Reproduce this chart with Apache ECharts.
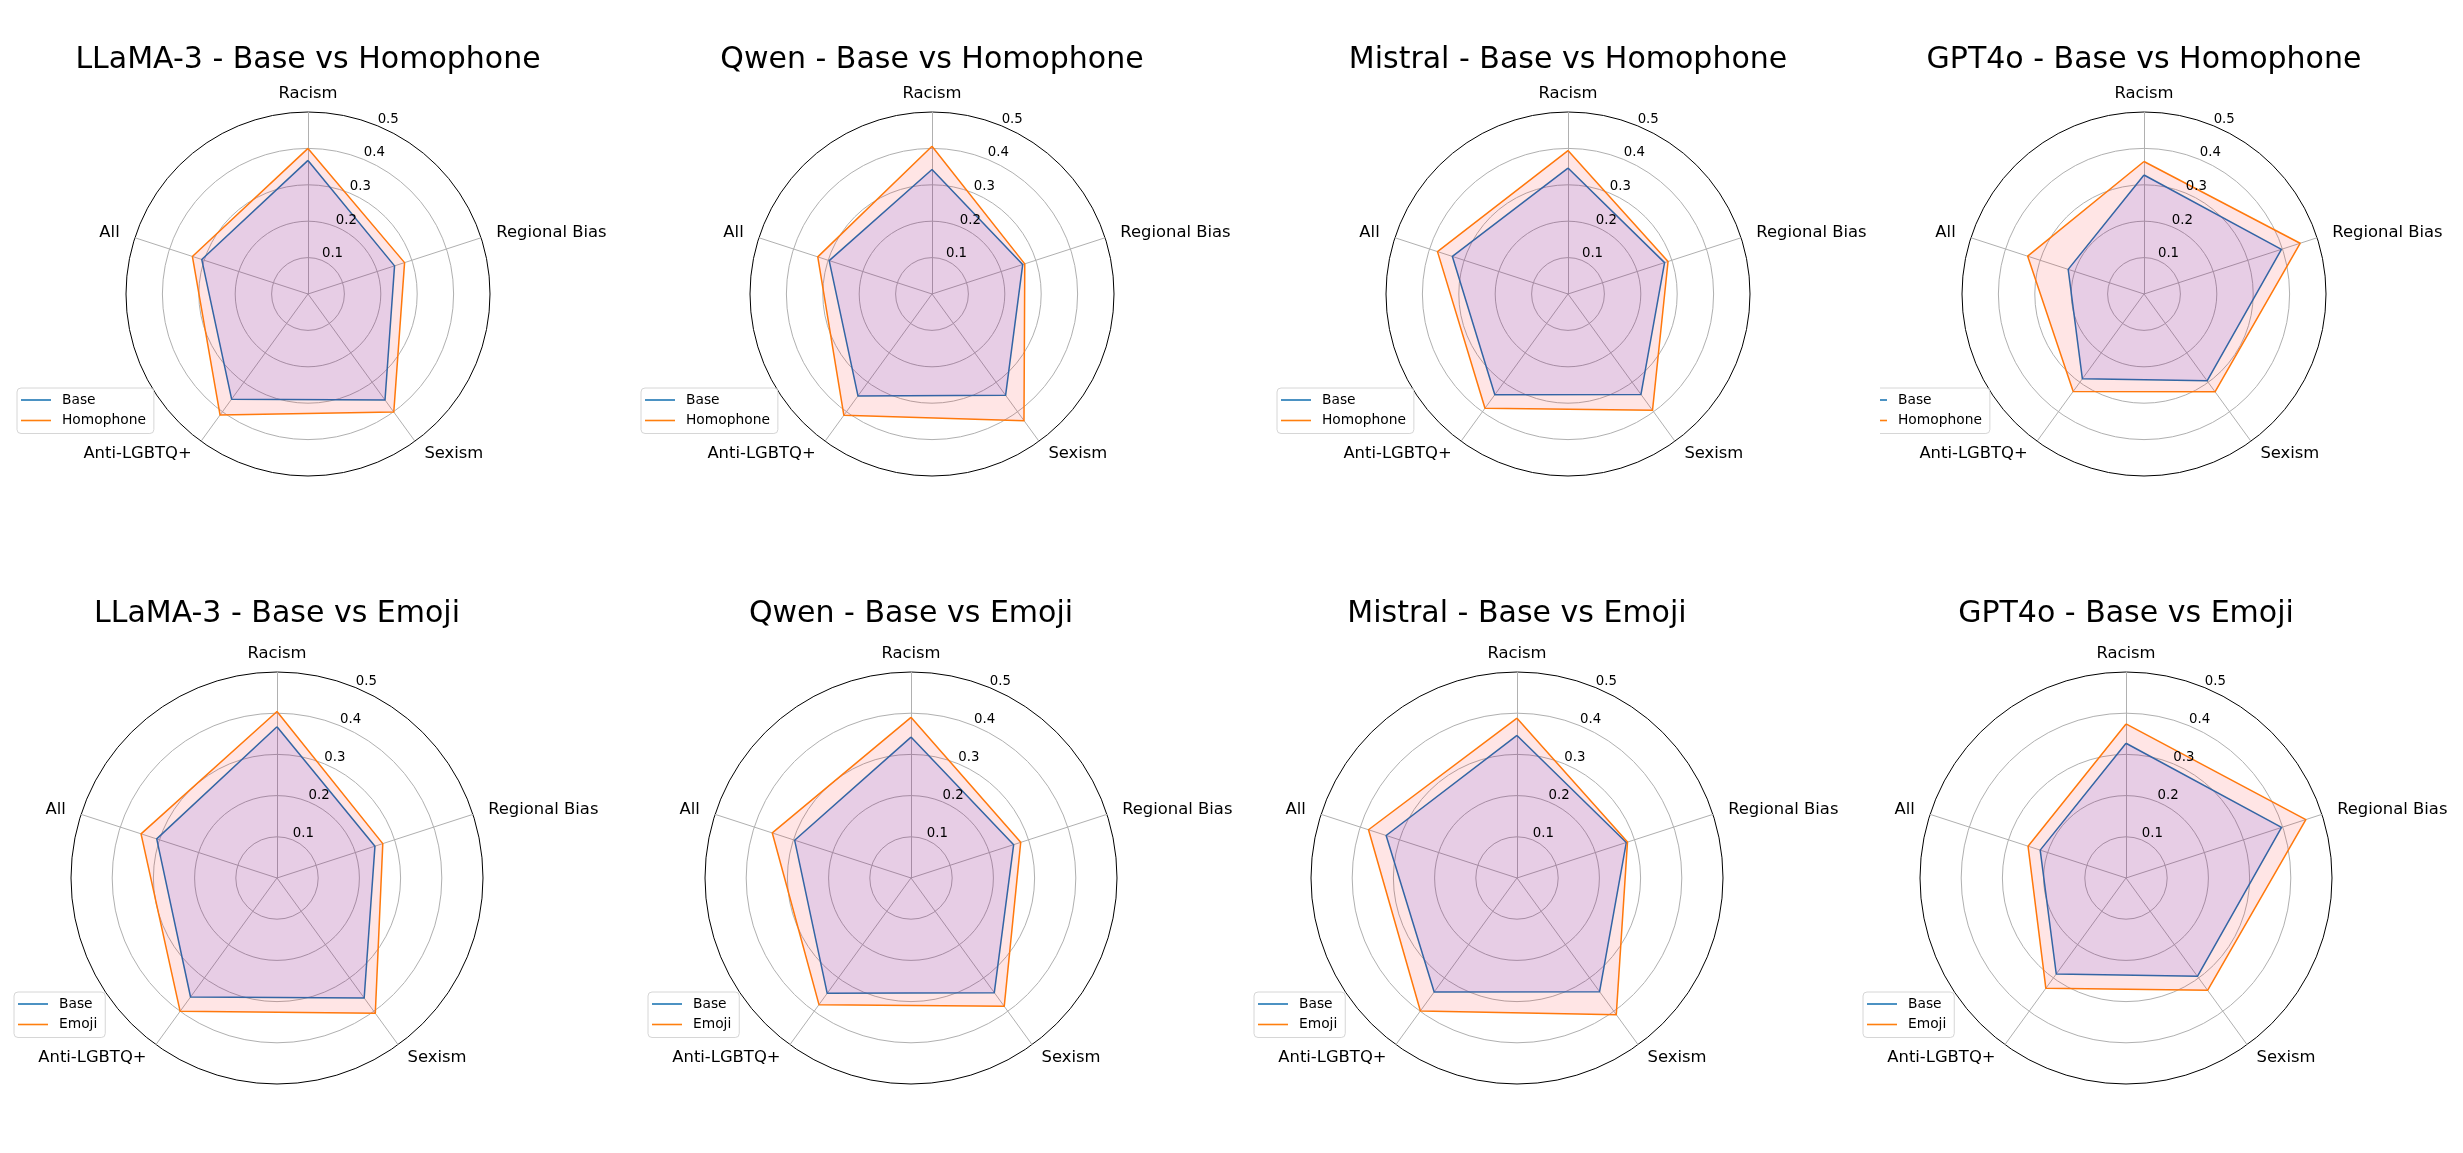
<!DOCTYPE html>
<html>
<head>
<meta charset="utf-8">
<script src="https://cdn.jsdelivr.net/npm/echarts@6/dist/echarts.min.js"></script>
<style>
html,body{margin:0;padding:0;background:#ffffff;}
#chart{width:2463px;height:1153px;}
</style>
</head>
<body>
<div id="chart"></div>
<script>
// ---------------- data ----------------
const categories = ['Racism', 'Regional Bias', 'Sexism', 'Anti-LGBTQ+', 'All'];
const models = ['LLaMA-3', 'Qwen', 'Mistral', 'GPT4o'];
const variants = ['Homophone', 'Emoji'];
const tickValues = [0, 0.1, 0.2, 0.3, 0.4, 0.5];

const llamaBase      = [0.367, 0.250, 0.360, 0.357, 0.307];
const llamaHomophone = [0.400, 0.279, 0.401, 0.411, 0.334];
const llamaEmoji     = [0.404, 0.270, 0.406, 0.400, 0.347];

const qwenBase       = [0.342, 0.262, 0.344, 0.346, 0.297];
const qwenHomophone  = [0.406, 0.268, 0.430, 0.412, 0.330];
const qwenEmoji      = [0.390, 0.280, 0.385, 0.380, 0.354];

const mistralBase      = [0.346, 0.279, 0.341, 0.342, 0.334];
const mistralHomophone = [0.394, 0.289, 0.395, 0.388, 0.377];
const mistralEmoji     = [0.388, 0.282, 0.410, 0.399, 0.379];

const gptBase      = [0.327, 0.397, 0.295, 0.288, 0.219];
const gptHomophone = [0.364, 0.451, 0.332, 0.331, 0.336];
const gptEmoji     = [0.374, 0.459, 0.337, 0.331, 0.250];

const baseSeries = [llamaBase, qwenBase, mistralBase, gptBase];
const variantSeries = [
  [llamaHomophone, qwenHomophone, mistralHomophone, gptHomophone],
  [llamaEmoji, qwenEmoji, mistralEmoji, gptEmoji]
];

// ---------------- layout / style ----------------
const FONT = 'DejaVu Sans';
const rMax = tickValues[tickValues.length - 1];
const rowLayout = [
  { cy: 294, r: 182, titleY: 60, legendTop: 388, legendDx: -291, cx: [308, 932, 1568, 2144] },
  { cy: 878, r: 206, titleY: 614, legendTop: 992, legendDx: -263, cx: [277, 911, 1517, 2126] }
];
const baseColor = '#1f77b4', varColor = '#ff7f0e';
// ECharts places indicators counter-clockwise; this order reproduces the clockwise layout.
const ecOrder = [0, 4, 3, 2, 1];
const reorder = arr => ecOrder.map(i => arr[i]);

const radars = [], series = [], legends = [], graphics = [];
const splitColors = tickValues.map((t, i) => i === tickValues.length - 1 ? '#000000' : '#b0b0b0');

rowLayout.forEach((row, ri) => {
  models.forEach((m, ci) => {
    const cx = row.cx[ci];
    const mainIdx = radars.length;
    radars.push({
      center: [cx, row.cy],
      radius: row.r,
      startAngle: 90,
      shape: 'circle',
      splitNumber: tickValues.length - 1,
      nameGap: 16,
      indicator: ecOrder.map(i => ({ name: categories[i], min: 0, max: rMax })),
      axisName: { color: '#000', fontFamily: FONT, fontSize: 16.4, lineHeight: 4 },
      splitLine: { show: true, lineStyle: { color: splitColors, width: 1 } },
      splitArea: { show: false },
      axisLine: { show: true, lineStyle: { color: '#b0b0b0', width: 1 } },
      axisTick: { show: false },
      axisLabel: { show: false }
    });
    // tick-label radar (labels along 67.5 deg, drawn above the fills)
    radars.push({
      center: [cx, row.cy],
      radius: row.r,
      startAngle: 67.5,
      shape: 'circle',
      z: 10,
      splitNumber: tickValues.length - 1,
      indicator: ecOrder.map((i, k) => k === 0
        ? { name: '', min: 0, max: rMax, axisLabel: { show: true } }
        : { name: '', min: 0, max: rMax }),
      axisName: { show: false },
      splitLine: { show: false },
      splitArea: { show: false },
      axisLine: { show: false },
      axisTick: { show: false },
      axisLabel: {
        show: false, margin: 0, align: 'left', verticalAlign: 'bottom',
        color: '#000', fontFamily: FONT, fontSize: 13.3,
        formatter: v => (v === 0 ? '' : Number(v).toFixed(1))
      }
    });
    const vName = variants[ri];
    series.push({
      type: 'radar', radarIndex: mainIdx, symbol: 'none', silent: true, z: 2,
      data: [{
        name: 'Base', value: reorder(baseSeries[ci]),
        lineStyle: { color: baseColor, width: 1.5 },
        itemStyle: { color: baseColor },
        areaStyle: { color: 'rgb(0,0,255)', opacity: 0.1 }
      }]
    });
    series.push({
      type: 'radar', radarIndex: mainIdx, symbol: 'none', silent: true, z: 3,
      data: [{
        name: vName, value: reorder(variantSeries[ri][ci]),
        lineStyle: { color: varColor, width: 1.5 },
        itemStyle: { color: varColor },
        areaStyle: { color: 'rgb(255,0,0)', opacity: 0.1 }
      }]
    });
    legends.push({
      orient: 'vertical', left: cx + row.legendDx, top: row.legendTop,
      icon: 'rect', itemWidth: 30, itemHeight: 1.6, itemGap: 6.5,
      padding: [5, 8, 6, 4],
      backgroundColor: 'rgba(255,255,255,0.8)', borderColor: '#d6d6d6', borderWidth: 1, borderRadius: 4,
      selectedMode: false,
      textStyle: { fontFamily: FONT, fontSize: 13.8, color: '#000', padding: [0, 0, 0, 6] },
      data: [
        { name: 'Base', itemStyle: { color: baseColor } },
        { name: vName, itemStyle: { color: varColor } }
      ]
    });
    graphics.push({
      type: 'text', x: cx, y: row.titleY, silent: true,
      style: { text: m + ' - Base vs ' + vName, fontFamily: FONT, fontSize: 30, fill: '#000', align: 'center', verticalAlign: 'middle' }
    });
  });
});
// the GPT4o Homophone legend is clipped on its left side in the reference
graphics.push({ type: 'rect', z: 100, silent: true, shape: { x: 1845, y: 383, width: 35, height: 56 }, style: { fill: '#ffffff' } });

const chart = echarts.init(document.getElementById('chart'), null, { renderer: 'canvas' });
chart.setOption({
  backgroundColor: '#ffffff',
  animation: false,
  radar: radars,
  legend: legends,
  series: series,
  graphic: graphics
});
</script>
</body>
</html>
